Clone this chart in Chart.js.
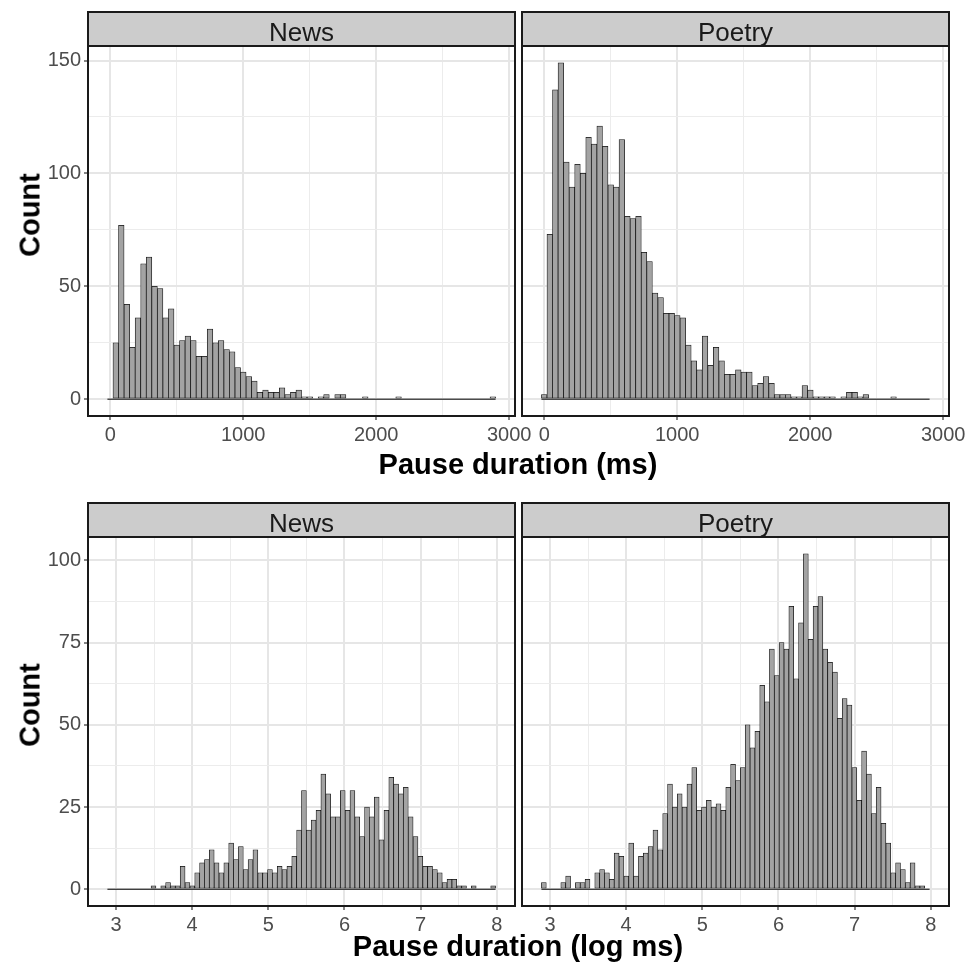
<!DOCTYPE html>
<html>
<head>
<meta charset="utf-8">
<title>Pause duration histograms</title>
<script src="https://cdn.jsdelivr.net/npm/chart.js@4.4.1/dist/chart.umd.min.js"></script>
<style>
  body { margin: 0; background: #fff; width: 978px; height: 969px; position: relative; overflow: hidden;
         font-family: "Liberation Sans", Arial, Helvetica, sans-serif; }
  canvas { position: absolute; }
  .axis-title { position: absolute; font-weight: bold; font-size: 29px; color: #000; white-space: nowrap;
                transform: translate(-50%, -50%); z-index: 5; }
  .axis-title.y { transform: translate(-50%, -50%) rotate(-90deg); }
</style>
</head>
<body>
<canvas id="msNews" width="540" height="450" style="left:0;top:0"></canvas>
<canvas id="msPoetry" width="478" height="450" style="left:500px;top:0"></canvas>
<canvas id="logNews" width="540" height="460" style="left:0;top:480px"></canvas>
<canvas id="logPoetry" width="478" height="460" style="left:500px;top:480px"></canvas>

<div class="axis-title y" style="left:30px;top:215px">Count</div>
<div class="axis-title" style="left:518px;top:464px">Pause duration (ms)</div>
<div class="axis-title y" style="left:30px;top:705px">Count</div>
<div class="axis-title" style="left:518px;top:946px">Pause duration (log ms)</div>

<script>
// histogram counts, raw durations (70 bins)
const msBinEdge = -20.85;
const msBinWidth = 41.7;
const newsMs = [0, 25, 77, 42, 23, 36, 60, 63, 50, 49,
    36, 40, 24, 26, 28, 26, 19, 19, 31, 25,
    26, 22, 21, 14, 12, 10, 8, 3, 4, 3,
    3, 5, 2, 3, 4, 1, 1, 0, 1, 2,
    0, 2, 2, 0, 0, 0, 1, 0, 0, 0,
    0, 0, 1, 0, 0, 0, 0, 0, 0, 0,
    0, 0, 0, 0, 0, 0, 0, 0, 0, 1];
const poetryMs = [2, 73, 137, 149, 105, 94, 104, 100, 116, 113,
    121, 112, 95, 94, 115, 81, 80, 81, 65, 61,
    47, 45, 38, 38, 37, 36, 24, 17, 13, 28,
    15, 23, 17, 11, 11, 13, 12, 12, 6, 7,
    10, 7, 2, 2, 2, 1, 1, 6, 4, 1,
    1, 1, 1, 0, 1, 3, 3, 1, 2, 0,
    0, 0, 0, 1, 0, 0, 0, 0, 0, 0];

// histogram counts, log durations (80 bins)
const logBinEdge = 2.888;
const logBinWidth = 0.0637;
const newsLog = [0, 0, 0, 0, 0, 0, 0, 0, 0, 1,
    0, 1, 2, 1, 1, 7, 2, 1, 5, 8,
    9, 12, 8, 5, 8, 14, 9, 13, 6, 9,
    12, 5, 5, 6, 5, 7, 6, 7, 10, 18,
    30, 18, 21, 24, 35, 29, 22, 22, 30, 24,
    30, 22, 16, 25, 22, 28, 15, 24, 34, 32,
    29, 31, 22, 16, 10, 7, 7, 6, 5, 2,
    3, 3, 1, 1, 0, 1, 0, 0, 0, 1];
const poetryLog = [2, 0, 0, 0, 2, 4, 0, 2, 2, 3,
    0, 5, 6, 5, 3, 11, 10, 4, 14, 4,
    10, 11, 13, 18, 12, 23, 32, 25, 29, 25,
    32, 37, 24, 25, 27, 25, 26, 24, 31, 38,
    33, 37, 50, 43, 48, 62, 57, 73, 65, 75,
    73, 86, 64, 81, 102, 76, 86, 89, 73, 69,
    66, 52, 58, 56, 37, 27, 42, 35, 23, 31,
    20, 14, 5, 8, 6, 2, 8, 1, 1, 0];

// tick labels (major) and minor grid positions
const msXTicks = [0, 1000, 2000, 3000];
const msXMinor = [500, 1500, 2500];
const msYTicks = [0, 50, 100, 150];
const msYMinor = [25, 75, 125];
const logXTicks = [3, 4, 5, 6, 7, 8];
const logXMinor = [3.5, 4.5, 5.5, 6.5, 7.5];
const logYTicks = [0, 25, 50, 75, 100];
const logYMinor = [12.5, 37.5, 62.5, 87.5];

Chart.defaults.font.family = '"Liberation Sans", Arial, Helvetica, sans-serif';
Chart.defaults.color = '#4d4d4d';

// grey strip on top of the panel plus the dark frame round it
const panelFrame = {
    id: 'panelFrame',
    afterDraw(chart, args, opts) {
        const { ctx, chartArea: a } = chart;
        const h = opts.stripHeight;
        ctx.save();
        ctx.fillStyle = '#cccccc';
        ctx.fillRect(a.left, a.top - h, a.right - a.left, h);
        ctx.strokeStyle = '#1a1a1a';
        ctx.lineWidth = 2;
        ctx.strokeRect(a.left, a.top - h, a.right - a.left, h);
        ctx.strokeRect(a.left, a.top, a.right - a.left, a.bottom - a.top);
        ctx.fillStyle = '#1a1a1a';
        ctx.font = '26px "Liberation Sans", Arial, sans-serif';
        ctx.textAlign = 'center';
        ctx.textBaseline = 'alphabetic';
        ctx.fillText(opts.label, (a.left + a.right) / 2, a.top - 5.5);
        ctx.restore();
    }
};

function axis(major, minor, min, max, fitSize, horizontal, showLabels) {
    const all = major.concat(minor).sort((p, q) => p - q);
    const isMajor = c => c.tick && major.includes(c.tick.value);
    return {
        type: 'linear',
        min: min,
        max: max,
        offset: false,
        afterBuildTicks: s => { s.ticks = all.map(v => ({ value: v })); },
        afterFit: s => { if (horizontal) s.height = fitSize; else s.width = fitSize; },
        border: { display: false },
        grid: {
            offset: false,
            color: c => isMajor(c) ? '#e6e6e6' : '#ececec',
            lineWidth: c => isMajor(c) ? 2 : 1,
            drawTicks: showLabels,
            tickLength: 4,
            tickWidth: 1.2,
            tickColor: c => isMajor(c) ? '#333333' : 'rgba(0,0,0,0)'
        },
        ticks: {
            display: showLabels,
            autoSkip: false,
            maxRotation: 0,
            padding: 3,
            color: '#4d4d4d',
            font: { size: 20 },
            callback: v => major.includes(v) ? String(v) : ''
        }
    };
}

function makePanel(id, label, counts, binEdge, binWidth, xr, yr, xt, xm, yt, ym, leftPanel, topPad) {
    const bars = counts.map((c, i) => ({ x: binEdge + (i + 0.5) * binWidth, y: c }));
    const baseline = [
        { x: binEdge, y: 0 },
        { x: binEdge + counts.length * binWidth, y: 0 }
    ];
    new Chart(document.getElementById(id), {
        type: 'bar',
        data: {
            datasets: [
                {
                    type: 'line',
                    data: baseline,
                    borderColor: '#000000',
                    borderWidth: 1,
                    pointRadius: 0,
                    order: 0
                },
                {
                    data: bars,
                    backgroundColor: '#a3a3a3',
                    borderColor: '#111111',
                    borderWidth: 0.75,
                    borderSkipped: false,
                    barPercentage: 1,
                    categoryPercentage: 1,
                    order: 1
                }
            ]
        },
        options: {
            responsive: false,
            animation: false,
            devicePixelRatio: 1,
            layout: { padding: { top: topPad, left: 0, right: leftPanel ? 25 : 29, bottom: 0 } },
            plugins: {
                legend: { display: false },
                tooltip: { enabled: false },
                panelFrame: { label: label, stripHeight: 34 }
            },
            scales: {
                x: axis(xt, xm, xr[0], xr[1], 34, true, true),
                y: axis(yt, ym, yr[0], yr[1], leftPanel ? 88 : 22, false, leftPanel)
            }
        },
        plugins: [panelFrame]
    });
}

makePanel('msNews', 'News', newsMs, msBinEdge, msBinWidth, [-167, 3044], [-7.45, 156.45],
    msXTicks, msXMinor, msYTicks, msYMinor, true, 46);
makePanel('msPoetry', 'Poetry', poetryMs, msBinEdge, msBinWidth, [-167, 3044], [-7.45, 156.45],
    msXTicks, msXMinor, msYTicks, msYMinor, false, 46);
makePanel('logNews', 'News', newsLog, logBinEdge, logBinWidth, [2.633, 8.239], [-5.1, 107.1],
    logXTicks, logXMinor, logYTicks, logYMinor, true, 57);
makePanel('logPoetry', 'Poetry', poetryLog, logBinEdge, logBinWidth, [2.633, 8.239], [-5.1, 107.1],
    logXTicks, logXMinor, logYTicks, logYMinor, false, 57);
</script>
</body>
</html>
